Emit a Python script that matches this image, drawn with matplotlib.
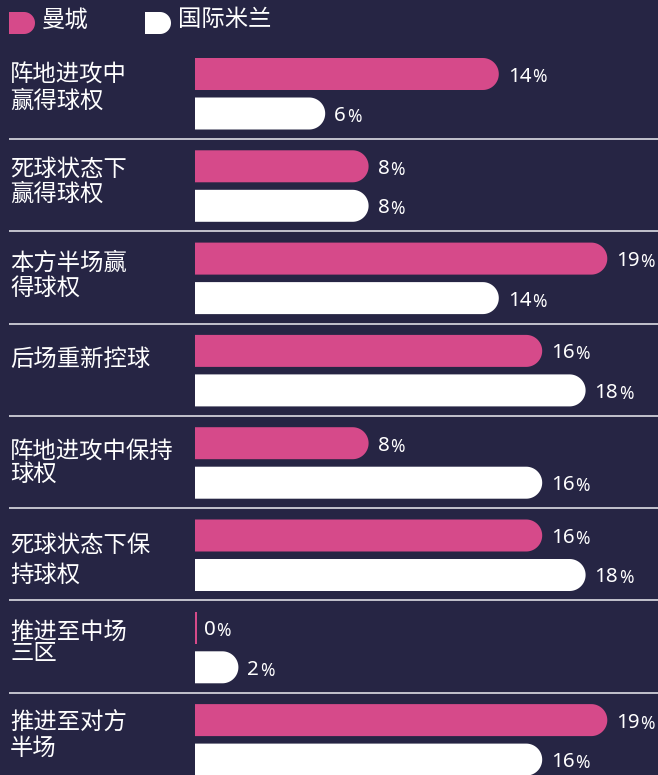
import numpy as np
import matplotlib
matplotlib.use('Agg')
import matplotlib.pyplot as plt
from matplotlib.path import Path
from matplotlib.patches import PathPatch
import matplotlib.transforms as mtransforms

plt.rcParams['font.family'] = ['Noto Sans CJK SC', 'DejaVu Sans']

# ---- data ----
categories = ["阵地进攻中\n赢得球权", "死球状态下\n赢得球权", "本方半场赢\n得球权", "后场重新控球",
              "阵地进攻中保持\n球权", "死球状态下保\n持球权", "推进至中场\n三区", "推进至对方\n半场"]
man_city = [14, 8, 19, 16, 8, 16, 0, 19]
inter = [6, 8, 14, 18, 16, 18, 2, 16]
team_names = ["曼城", "国际米兰"]

# ---- layout (pixels) ----
label_dy = [-1.5, 1, 2, 6, 7, 8, 2, 0]      # first label line centre vs. first bar centre
label_pitch = [26.5, 25, 25, 25, 22, 29, 21, 26]

BG = '#262544'
PINK = '#d64a8a'
WHITE = '#ffffff'
SEP = '#cfcfd8'

W, H = 658, 775
fig = plt.figure(figsize=(W / 100, H / 100), dpi=100, facecolor=BG)
px = mtransforms.Affine2D().scale(1 / W, -1 / H).translate(0, 1) + fig.transFigure

left_px = 195
ppu_x = 21.7      # pixels per percent
group_px = 92.3   # pixels per group
first_px = 74     # first bar centre (px from top)

ax = fig.add_axes([left_px / W, 0, 1 - left_px / W, 1])
ax.set_facecolor(BG)
ax.set_xlim(0, (W - left_px) / ppu_x)
ax.set_ylim((H - first_px) / group_px, -first_px / group_px)
ax.axis('off')

blend = mtransforms.blended_transform_factory(fig.transFigure, ax.transData)

hh = 16 / group_px          # bar half-height in y units
rx = 16 / ppu_x             # cap radius in x units
second_off = 39.5 / group_px
sep_off = 65 / group_px
LABEL_FS = 16.8
CJK_BASE = 8.9              # px from glyph centre to baseline


def d_path(x0, x1, yc, h, r):
    xe = max(x1 - r, x0)
    t = np.linspace(-np.pi / 2, np.pi / 2, 40)
    verts = [(x0, yc - h), (xe, yc - h)]
    verts += [(xe + r * np.cos(a), yc + h * np.sin(a)) for a in t]
    verts += [(x0, yc + h), (x0, yc - h)]
    codes = [Path.MOVETO] + [Path.LINETO] * (len(verts) - 2) + [Path.CLOSEPOLY]
    return Path(verts, codes)


def draw_bar(v, yc, color):
    if v <= 0:
        ax.barh(yc, 1.5 / ppu_x, height=2 * hh, left=0, color=color, linewidth=0)
    else:
        ax.add_patch(PathPatch(d_path(0, v, yc, hh, rx), facecolor=color, edgecolor='none'))
    t = ax.text(v + 9 / ppu_x, yc + 7.5 / group_px, f"{v}", color=WHITE, fontsize=14.8,
                va='baseline', ha='left', family=['Noto Sans', 'DejaVu Sans'])
    ax.annotate('%', xy=(1, 0), xycoords=t, xytext=(0.5, 0), textcoords='offset points',
                color=WHITE, fontsize=12.5, va='bottom', ha='left',
                family=['Noto Sans', 'DejaVu Sans'])


for i, (cat, a, b) in enumerate(zip(categories, man_city, inter)):
    draw_bar(a, i, PINK)
    draw_bar(b, i + second_off, WHITE)
    for k, line in enumerate(cat.split("\n")):
        yc = i + (label_dy[i] + k * label_pitch[i] + CJK_BASE) / group_px
        ax.text(10 / W, yc, line, transform=blend, color=WHITE, fontsize=LABEL_FS,
                va='baseline', ha='left')
    if i < len(categories) - 1:
        ax.plot([9 / W, 1], [i + sep_off] * 2, transform=blend, color=SEP, lw=1.3,
                clip_on=False, solid_capstyle='butt')

# ---- legend ----
for (x0, name, col) in [(9, team_names[0], PINK), (145, team_names[1], WHITE)]:
    fig.add_artist(PathPatch(d_path(x0, x0 + 26, 23, 11, 11), transform=px,
                             facecolor=col, edgecolor='none'))
    fig.text(x0 + 33, 17.5 + CJK_BASE, name, transform=px, color=WHITE, fontsize=LABEL_FS,
             va='baseline', ha='left')

fig.savefig('out.png', dpi=100, facecolor=BG)
